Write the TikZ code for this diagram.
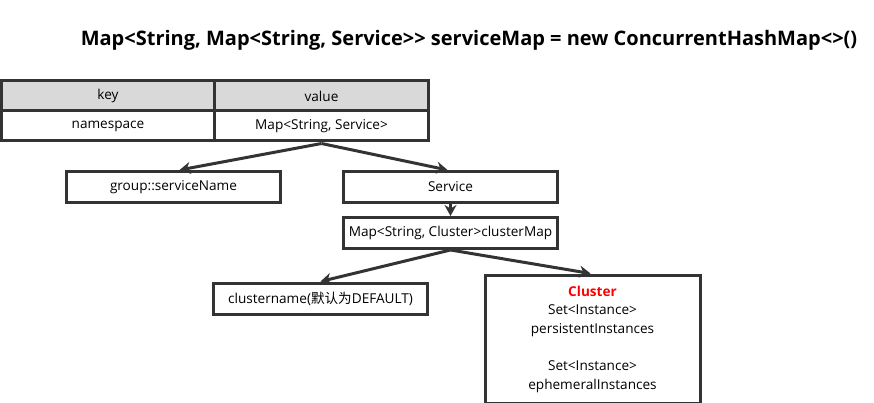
\documentclass[tikz,border=0pt]{standalone}
\usepackage{fontspec}
\setmainfont{Open Sans}
\newfontfamily\cjk{Noto Sans CJK SC}
\usetikzlibrary{arrows.meta}
\tikzset{>=stealth}
\definecolor{headgray}{HTML}{D9D9D9}
\definecolor{linegray}{HTML}{333333}

\begin{document}
\begin{tikzpicture}[x=1pt, y=-1pt,
  box/.style={draw=linegray, line width=3pt, minimum width=214pt, minimum height=31pt, inner sep=0pt, font=\fontsize{13.6}{18.6}\selectfont},
  cell/.style={box, minimum width=213.5pt, minimum height=30pt},
  head/.style={cell, fill=headgray},
  link/.style={draw=linegray, line width=3pt, -{Stealth[length=11pt, width=12pt]}}]
\useasboundingbox (0,0) rectangle (874,403);
% title
\node[font=\bfseries\fontsize{20}{22}\selectfont, anchor=center] (title) at (469,40) {Map<String, Map<String, Service>\kern0pt> serviceMap = new ConcurrentHashMap<>()};
% table
\node[head] (keyhead) at (108,96) {key};
\node[head] (valhead) at (321.5,96) {value};
\node[cell] (nskey) at (108,126) {namespace};
\node[cell] (mapval) at (321.5,126) {Map<String, Service>};
% boxes
\node[box] (group) at (173.5,187) {group::serviceName};
\node[box] (service) at (450.5,187) {Service};
\node[box] (clustermap) at (450.5,233) {Map<String, Cluster>clusterMap};
\node[box] (clustername) at (320.5,298.5) {clustername({\cjk 默认为}DEFAULT)};
\node[box, minimum width=215pt, minimum height=128pt, align=center] (cluster) at (592.5,339)
  {\textcolor{red}{\bfseries Cluster}\\Set<Instance>\\persistentInstances\\[18.6pt]Set<Instance>\\ephemeralInstances};
% arrows
\draw[link] ([yshift=-1pt]mapval.south) -- ([xshift=6pt]group.north);
\draw[link] ([yshift=-1pt]mapval.south) -- ([xshift=-3pt]service.north);
\draw[link] (service) -- (clustermap);
\draw[link] (clustermap.south) -- (clustername.north);
\draw[link] (clustermap.south) -- ([xshift=-2pt]cluster.north);
\end{tikzpicture}
\end{document}
